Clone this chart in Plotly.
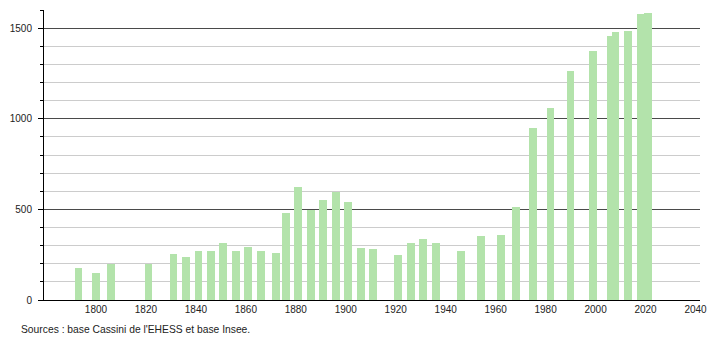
import plotly.graph_objects as go

years = [1793, 1800, 1806, 1821, 1831, 1836, 1841, 1846, 1851, 1856, 1861, 1866,
         1872, 1876, 1881, 1886, 1891, 1896, 1901, 1906, 1911, 1921, 1926, 1931,
         1936, 1946, 1954, 1962, 1968, 1975, 1982, 1990, 1999, 2006, 2008, 2013,
         2018, 2021]
population = [179, 151, 197, 197, 253, 240, 271, 268, 316, 271, 295, 268,
              262, 480, 624, 499, 554, 595, 543, 286, 281, 248, 314, 336,
              314, 271, 355, 358, 514, 947, 1058, 1265, 1376, 1455, 1477, 1483,
              1579, 1583]
x_ticks = [1800, 1820, 1840, 1860, 1880, 1900, 1920, 1940, 1960, 1980, 2000, 2020, 2040]
y_ticks = [0, 500, 1000, 1500]
source_text = "Sources : base Cassini de l'EHESS et base Insee."

fig = go.Figure()
fig.add_trace(go.Bar(
    x=years, y=population, width=3.1,
    marker=dict(color="#b3e3ab", line=dict(width=0)),
    hoverinfo="x+y",
))

font = dict(family="Liberation Sans, Arial, sans-serif", size=10, color="#222")

fig.update_layout(
    width=710, height=340,
    margin=dict(l=44, r=10, t=10, b=40, autoexpand=False),
    paper_bgcolor="white", plot_bgcolor="white",
    showlegend=False,
    font=font,
    bargap=0,
    xaxis=dict(
        range=[1779.2, 2041.8],
        tickvals=x_ticks, ticktext=[str(v) for v in x_ticks],
        showgrid=False, zeroline=False, automargin=False,
        showline=True, linecolor="#000", linewidth=1,
        ticks="", tickfont=font,
    ),
    yaxis=dict(
        range=[0, 1600],
        tickvals=y_ticks, ticktext=[str(v) for v in y_ticks],
        showgrid=True, gridcolor="#4a4a4a", gridwidth=1,
        zeroline=False, automargin=False,
        showline=True, linecolor="#000", linewidth=1,
        ticks="outside", ticklen=5, tickcolor="#000",
        ticklabelstandoff=4,
        tickfont=font,
        minor=dict(dtick=100, showgrid=True, gridcolor="#cccccc", gridwidth=1,
                   ticks="outside", ticklen=3, tickcolor="#000"),
    ),
    annotations=[dict(
        text=source_text, xref="paper", yref="paper",
        x=-0.037, y=-0.1034, xanchor="left", yanchor="middle",
        showarrow=False, borderpad=0,
        font=dict(family="Liberation Sans, Arial, sans-serif", size=10.3, color="#222"),
    )],
)

fig.write_html("out.html")
